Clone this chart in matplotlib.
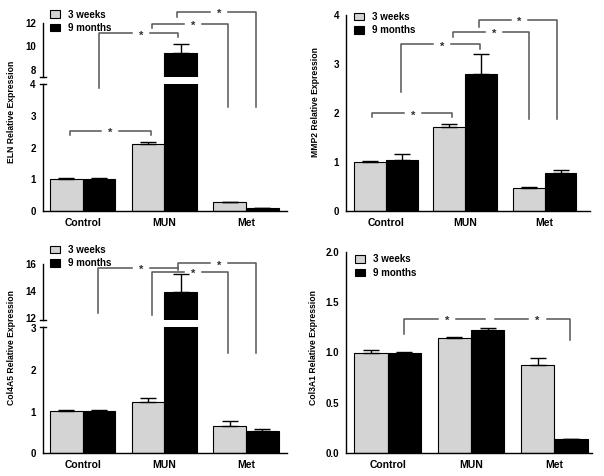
import numpy as np
import matplotlib.pyplot as plt
from matplotlib.patches import Patch

plt.rcParams['font.family'] = ['Liberation Sans', 'DejaVu Sans']
plt.rcParams['font.weight'] = 'bold'

groups = ['Control', 'MUN', 'Met']
series = ['3 weeks', '9 months']

# ELN
eln_3w = [1.0, 2.1, 0.28]
eln_3w_err = [0.05, 0.07, 0.01]
eln_9m = [1.0, 9.42, 0.07]
eln_9m_err = [0.05, 0.75, 0.02]

# MMP2
mmp2_3w = [1.0, 1.72, 0.47]
mmp2_3w_err = [0.02, 0.05, 0.01]
mmp2_9m = [1.03, 2.8, 0.77]
mmp2_9m_err = [0.12, 0.4, 0.06]

# Col4A5
col4_3w = [1.02, 1.22, 0.66]
col4_3w_err = [0.03, 0.1, 0.12]
col4_9m = [1.01, 13.93, 0.535]
col4_9m_err = [0.02, 1.35, 0.055]

# Col3A1
col3_3w = [1.0, 1.144, 0.876]
col3_3w_err = [0.02, 0.006, 0.065]
col3_9m = [1.0, 1.223, 0.142]
col3_9m_err = [0.003, 0.022, 0.003]

# significance brackets: x1, x2, y, drop at x1, drop at x2, star x
eln_sig = [(-0.155, 0.84, 2.53, 2.40, 2.40, 0.33),
           (0.2, 1.17, 5.61, 3.87, 5.49, 0.71),
           (0.85, 1.78, 5.91, 5.77, 3.29, 1.35),
           (1.15, 2.12, 6.28, 6.12, 3.29, 1.67)]
mmp2_sig = [(-0.17, 0.83, 1.99, 1.91, 1.91, 0.34),
            (0.19, 1.18, 3.40, 2.43, 3.31, 0.71),
            (0.85, 1.80, 3.65, 3.55, 1.88, 1.36),
            (1.17, 2.15, 3.90, 3.76, 1.88, 1.68)]
col4_sig = [(0.19, 1.165, 4.46, 3.37, 4.40, 0.71),
            (0.85, 1.78, 4.36, 3.32, 2.40, 1.35),
            (1.165, 2.12, 4.56, 4.44, 2.40, 1.67)]
col3_sig = [(0.2, 1.17, 1.33, 1.18, None, 0.71),
            (1.29, 2.19, 1.33, None, 1.12, 1.80)]

W, H = 604, 476
LIGHT = '#d4d4d4'
BRK = '#555555'
x = np.arange(len(groups))
bw = 0.4


def rect(l, t, r, b):
    # pixel box -> figure fraction
    return [l / W, 1 - b / H, (r - l) / W, (b - t) / H]


def style(ax, bottom=True):
    for s in ['top', 'right']:
        ax.spines[s].set_visible(False)
    ax.spines['left'].set_linewidth(1)
    ax.spines['bottom'].set_linewidth(1)
    ax.tick_params(axis='y', length=0, pad=5, labelsize=7)
    ax.tick_params(axis='x', length=0, pad=5, labelsize=7.5)
    ax.patch.set_visible(False)
    if not bottom:
        ax.spines['bottom'].set_visible(False)
        ax.set_xticks([])


def draw_bars(ax, v3, e3, v9, e9):
    ax.bar(x - bw / 2, v3, bw, color=LIGHT, edgecolor='black', linewidth=0.8)
    ax.bar(x + bw / 2, v9, bw, color='black', edgecolor='black', linewidth=0.8)
    ax.errorbar(x - bw / 2, v3, yerr=[np.zeros(3), e3], fmt='none', ecolor='black',
                elinewidth=1, capsize=6, capthick=1)
    ax.errorbar(x + bw / 2, v9, yerr=[np.zeros(3), e9], fmt='none', ecolor='black',
                elinewidth=1, capsize=6, capthick=1)


def brackets(ax, sig, gap=0.11):
    for x1, x2, y, d1, d2, xs in sig:
        xl = [x1, x1, xs - gap] if d1 is not None else [x1, xs - gap]
        yl = [d1, y, y] if d1 is not None else [y, y]
        xr = [xs + gap, x2, x2] if d2 is not None else [xs + gap, x2]
        yr = [y, y, d2] if d2 is not None else [y, y]
        ax.plot(xl, yl, color=BRK, lw=1.1, clip_on=False)
        ax.plot(xr, yr, color=BRK, lw=1.1, clip_on=False)
        ax.annotate('*', (xs, y), xytext=(0, -1.5), textcoords='offset points',
                    ha='center', va='center', fontsize=8, color='#303030',
                    annotation_clip=False)


def legend(ax, px, py):
    handles = [Patch(facecolor=LIGHT, edgecolor='black', linewidth=0.8),
               Patch(facecolor='black', edgecolor='black', linewidth=0.8)]
    ax.legend(handles, series, loc='upper left', bbox_to_anchor=(px / W, 1 - py / H),
              bbox_transform=fig.transFigure, frameon=False, borderpad=0,
              borderaxespad=0, handlelength=1.05, handleheight=0.8,
              handletextpad=0.8, labelspacing=0.35, fontsize=7)


def break_marks(ax_low, ax_up):
    ax_up.plot([-0.012, 0.012], [0, 0], transform=ax_up.transAxes, color='black',
               lw=1, clip_on=False)
    ax_low.plot([-0.012, 0.012], [1, 1], transform=ax_low.transAxes, color='black',
                lw=1, clip_on=False)


fig = plt.figure(figsize=(W / 100, H / 100), dpi=100)
xlim = (-0.49, 2.5)

# ELN (broken axis)
ax1 = fig.add_axes(rect(42.7, 84.3, 287, 210.7))
ax1u = fig.add_axes(rect(42.7, 22.7, 287, 76.7))
for a in (ax1, ax1u):
    draw_bars(a, eln_3w, eln_3w_err, eln_9m, eln_9m_err)
    a.set_xlim(xlim)
style(ax1)
style(ax1u, bottom=False)
ax1.set_ylim(0, 4)
ax1.set_yticks([0, 1, 2, 3, 4])
ax1u.set_ylim(7.4, 12)
ax1u.set_yticks([8, 10, 12])
ax1.set_xticks(x, groups)
break_marks(ax1, ax1u)
brackets(ax1, eln_sig)
legend(ax1u, 50, 9.5)
fig.text(11.7 / W, 1 - 111.5 / H, 'ELN Relative Expression', rotation=90,
         ha='center', va='center', fontsize=6.2)

# MMP2
ax2 = fig.add_axes(rect(346, 15, 590, 210.7))
draw_bars(ax2, mmp2_3w, mmp2_3w_err, mmp2_9m, mmp2_9m_err)
style(ax2)
ax2.set_xlim(-0.5, 2.57)
ax2.set_ylim(0, 4)
ax2.set_yticks([0, 1, 2, 3, 4])
ax2.set_xticks(x, groups)
brackets(ax2, mmp2_sig)
legend(ax2, 354, 12)
fig.text(315 / W, 1 - 102.5 / H, 'MMP2 Relative Expression', rotation=90,
         ha='center', va='center', fontsize=6.2)

# Col4A5 (broken axis)
ax3 = fig.add_axes(rect(42.7, 326.7, 287, 453.3))
ax3u = fig.add_axes(rect(42.7, 264.3, 287, 319.65))
for a in (ax3, ax3u):
    draw_bars(a, col4_3w, col4_3w_err, col4_9m, col4_9m_err)
    a.set_xlim(xlim)
style(ax3)
style(ax3u, bottom=False)
ax3.set_ylim(0, 3.04)
ax3.set_yticks([0, 1, 2, 3])
ax3u.set_ylim(11.9, 16)
ax3u.set_yticks([12, 14, 16])
ax3.set_xticks(x, groups)
break_marks(ax3, ax3u)
brackets(ax3, col4_sig)
legend(ax3u, 50, 245)
fig.text(11.7 / W, 1 - 347.5 / H, 'Col4A5 Relative Expression', rotation=90,
         ha='center', va='center', fontsize=6.2)

# Col3A1
ax4 = fig.add_axes(rect(346, 251.7, 591.7, 453.3))
draw_bars(ax4, col3_3w, col3_3w_err, col3_9m, col3_9m_err)
style(ax4)
ax4.set_xlim(-0.5, 2.45)
ax4.set_ylim(0, 2.0)
ax4.set_yticks([0, 0.5, 1.0, 1.5, 2.0], ['0.0', '0.5', '1.0', '1.5', '2.0'])
ax4.set_xticks(x, groups)
brackets(ax4, col3_sig)
legend(ax4, 355, 254.5)
fig.text(313.3 / W, 1 - 347.5 / H, 'Col3A1 Relative Expression', rotation=90,
         ha='center', va='center', fontsize=6.2)

fig.savefig('out.png', dpi=100)
